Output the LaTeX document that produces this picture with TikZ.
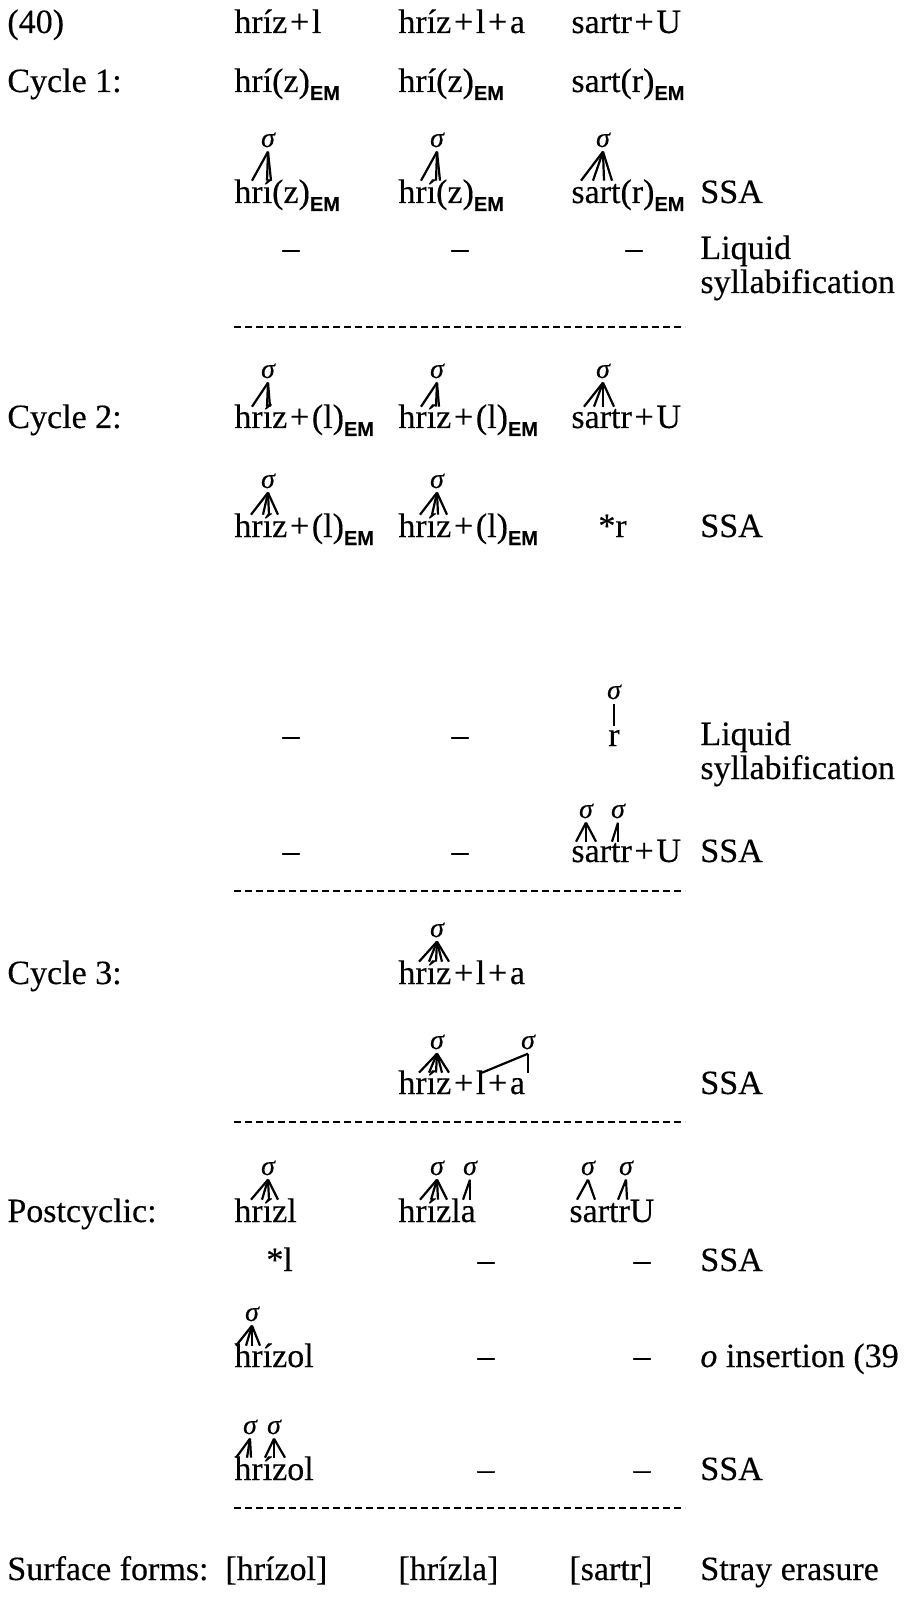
\documentclass[tikz,border=0pt]{standalone}
\usepackage{fontspec}
\setmainfont{Liberation Serif}[FakeBold=0.3]
\newfontfamily\emsans{Liberation Sans}[FakeBold=0.3]
\usetikzlibrary{positioning}

\newcommand{\EM}{\raisebox{-4pt}{\emsans\bfseries\fontsize{10}{10}\selectfont EM}}
\newcommand{\plus}{\kern0.08em+\kern0.08em}
% lines from a sigma down to its segments
\newcommand{\fan}[3]{\foreach \dx in {#3} {\draw[tree] (#1.south) -- ++(\dx,#2);}}

\begin{document}
\begin{tikzpicture}[x=0.5pt, y=-0.5pt,
    every node/.style={inner sep=0pt, font=\fontsize{17}{20}\selectfont},
    wd/.style={anchor=base west},
    nil/.style={anchor=base},
    sig/.style={anchor=base, font=\fontsize{14}{16}\selectfont\itshape, inner ysep=2pt},
    tree/.style={line width=1.1pt},
    cut/.style={line width=0.9pt, dash pattern=on 3.5pt off 2pt}]
\useasboundingbox (0,0) rectangle (912,1604);

% input
\node[wd] (ex) at (7,33) {(40)};
\node[wd] (a0) at (234,33) {hríz\plus l};
\node[wd] (b0) at (398,33) {hríz\plus l\plus a};
\node[wd] (c0) at (571,33) {sartr\plus U};

% cycle 1
\node[wd] (cyc1) at (7,92) {Cycle 1:};
\node[wd] (a1) at (234,92) {hrí(z)\EM};
\node[wd] (b1) at (398,92) {hrí(z)\EM};
\node[wd] (c1) at (571,92) {sart(r)\EM};

\node[sig] (s1a) at (268,147) {σ};
\node[sig] (s1b) at (437,147) {σ};
\node[sig] (s1c) at (603,147) {σ};
\fan{s1a}{29}{-16,-1,3}
\fan{s1b}{29}{-16,-1,3}
\fan{s1c}{29}{-22,-10,1,9}
\node[wd] (a2) at (234,203) {hrí(z)\EM};
\node[wd] (b2) at (398,203) {hrí(z)\EM};
\node[wd] (c2) at (571,203) {sart(r)\EM};
\node[wd] (r2) at (700,203) {SSA};

\node[nil] (a3) at (291,259) {–};
\node[nil] (b3) at (460,259) {–};
\node[nil] (c3) at (634,259) {–};
\node[wd] (r3) at (700,259) {Liquid};
\node[wd] (r3b) at (700,293) {syllabification};

\draw[cut] (234,327) -- (685,327);

% cycle 2
\node[sig] (s4a) at (268,378) {σ};
\node[sig] (s4b) at (437,378) {σ};
\node[sig] (s4c) at (603,378) {σ};
\fan{s4a}{24}{-16,-1,2}
\fan{s4b}{24}{-16,-1,2}
\fan{s4c}{24}{-19,-9,0,11}
\node[wd] (cyc2) at (7,428) {Cycle 2:};
\node[wd] (a4) at (234,428) {hríz\plus(l)\EM};
\node[wd] (b4) at (398,428) {hríz\plus(l)\EM};
\node[wd] (c4) at (571,428) {sartr\plus U};

\node[sig] (s5a) at (268,488) {σ};
\node[sig] (s5b) at (437,488) {σ};
\fan{s5a}{22}{-17,-5,1,10}
\fan{s5b}{22}{-17,-5,1,10}
\node[wd] (a5) at (234,537) {hríz\plus(l)\EM};
\node[wd] (b5) at (398,537) {hríz\plus(l)\EM};
\node[wd] (c5) at (598,537) {*r};
\node[wd] (r5) at (700,537) {SSA};

\node[sig] (s6) at (614,699) {σ};
\node[nil] (c6) at (614,746) {r};
\draw[tree] (s6.south) -- ([yshift=2pt]c6.north);
\node[nil] (a6) at (291,746) {–};
\node[nil] (b6) at (460,746) {–};
\node[wd] (r6) at (700,745) {Liquid};
\node[wd] (r6b) at (700,779) {syllabification};

\node[sig] (s7a) at (586,818) {σ};
\node[sig] (s7b) at (618,818) {σ};
\fan{s7a}{19}{-10,0,10}
\fan{s7b}{19}{-6,0}
\node[nil] (a7) at (291,862) {–};
\node[nil] (b7) at (460,862) {–};
\node[wd] (c7) at (571,862) {sartr\plus U};
\node[wd] (r7) at (700,862) {SSA};

\draw[cut] (234,891) -- (685,891);

% cycle 3
\node[sig] (s8) at (437,937) {σ};
\fan{s8}{20}{-18,-8,-1,5,12}
\node[wd] (cyc3) at (7,984) {Cycle 3:};
\node[wd] (b8) at (398,984) {hríz\plus l\plus a};

\node[sig] (s9a) at (437,1049) {σ};
\node[sig] (s9b) at (528,1049) {σ};
\fan{s9a}{19}{-18,-8,-1,5,12}
\fan{s9b}{19}{-46,0}
\node[wd] (b9) at (398,1094) {hríz\plus l\plus a};
\node[wd] (r9) at (700,1094) {SSA};

\draw[cut] (234,1122) -- (685,1122);

% postcyclic
\node[sig] (s10a) at (268,1175) {σ};
\node[sig] (s10b) at (437,1175) {σ};
\node[sig] (s10c) at (470,1175) {σ};
\node[sig] (s10d) at (588,1175) {σ};
\node[sig] (s10e) at (626,1175) {σ};
\fan{s10a}{20}{-17,-6,1,10}
\fan{s10b}{20}{-17,-6,1,10}
\fan{s10c}{20}{-7,0}
\fan{s10d}{20}{-11,7}
\fan{s10e}{20}{-8,1}
\node[wd] (post) at (7,1222) {Postcyclic:};
\node[wd] (a10) at (234,1222) {hrízl};
\node[wd] (b10) at (398,1222) {hrízla};
\node[wd] (c10) at (569,1222) {sartrU};

\node[wd] (a11) at (266,1271) {*l};
\node[nil] (b11) at (486,1271) {–};
\node[nil] (c11) at (642,1271) {–};
\node[wd] (r11) at (700,1271) {SSA};

\node[sig] (s12) at (252,1321) {σ};
\fan{s12}{20}{-16,-6,0,8}
\node[wd] (a12) at (234,1367) {hrízol};
\node[nil] (b12) at (486,1367) {–};
\node[nil] (c12) at (642,1367) {–};
\node[wd] (r12) at (700,1367) {\textit{o} insertion (39};

\node[sig] (s13a) at (250,1434) {σ};
\node[sig] (s13b) at (274,1434) {σ};
\fan{s13a}{19}{-14,-3,1}
\fan{s13b}{19}{-9,0,11}
\node[wd] (a13) at (234,1480) {hrízol};
\node[nil] (b13) at (486,1480) {–};
\node[nil] (c13) at (642,1480) {–};
\node[wd] (r13) at (700,1480) {SSA};

\draw[cut] (234,1508) -- (685,1508);

% result
\node[wd] (surf) at (7,1580) {Surface forms:};
\node[wd] (a14) at (225,1580) {[hrízol]};
\node[wd] (b14) at (398,1580) {[hrízla]};
\node[wd] (c14) at (569,1580) {[sartr̩]};
\node[wd] (r14) at (700,1580) {Stray erasure};
\end{tikzpicture}
\end{document}
